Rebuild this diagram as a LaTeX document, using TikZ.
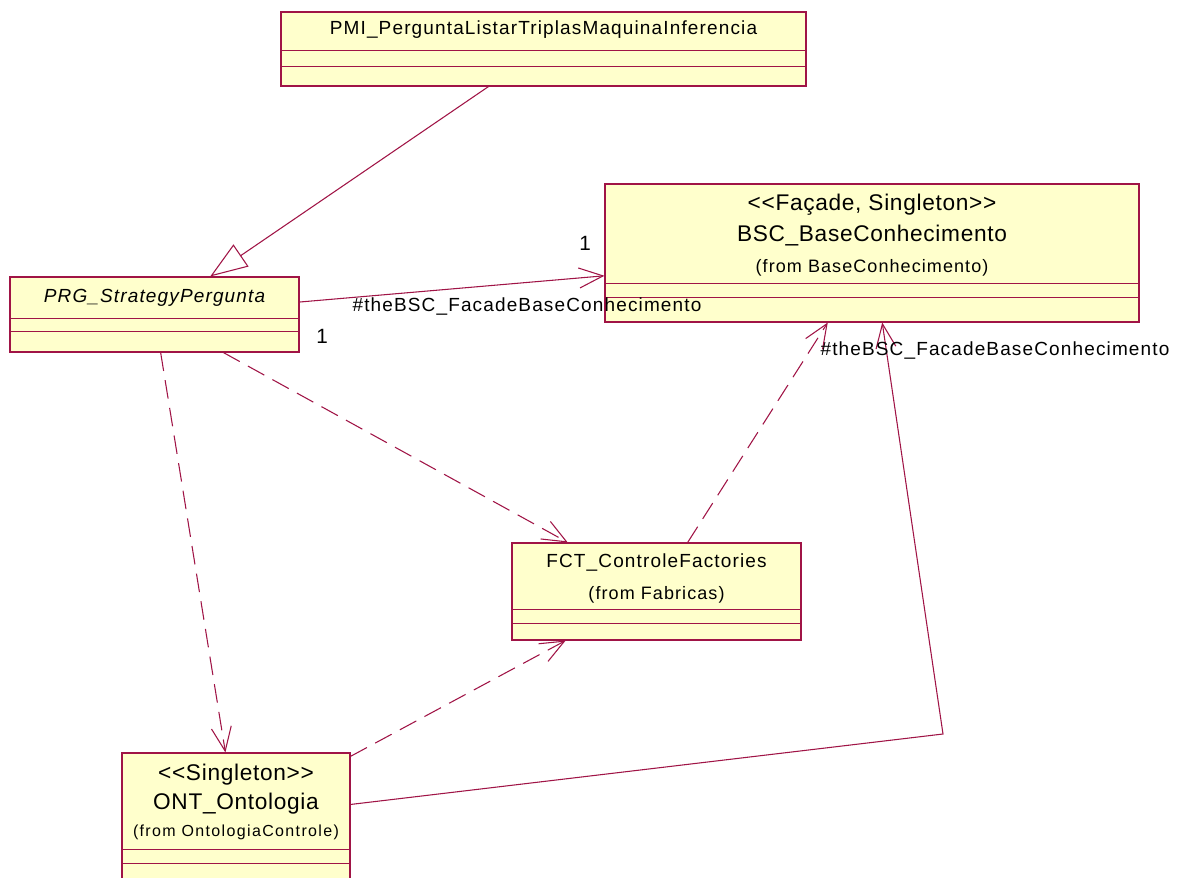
\documentclass[tikz,border=0pt]{standalone}
\usepackage{fontspec}
\usepackage{tikz}
\usetikzlibrary{arrows.meta,calc}
\newfontfamily\rosefont{Liberation Sans}[LetterSpace=6]
\newfontfamily\rosesmall{Liberation Sans}[LetterSpace=8.5]
\newfontfamily\rosebig{Liberation Sans}[LetterSpace=3]
\definecolor{roseline}{RGB}{160,20,70}
\definecolor{rosefill}{RGB}{255,255,204}
\tikzset{
    classbox/.style = {rectangle, draw=roseline, fill=rosefill, line width=0.8pt, inner sep=0pt},
    compart/.style = {draw=roseline, line width=0.8pt},
    classname/.style = {font=\rosefont\fontsize{14.25}{17}\selectfont, inner sep=0pt},
    bigname/.style = {font=\rosebig\fontsize{17}{20}\selectfont, inner sep=0pt},
    fromtext/.style = {font=\rosefont\fontsize{13.5}{16}\selectfont, inner sep=0pt},
    fromsmall/.style = {font=\rosesmall\fontsize{12}{14}\selectfont, inner sep=0pt},
    role/.style = {font=\rosefont\fontsize{14.25}{17}\selectfont, inner sep=0pt},
    mult/.style = {font=\rosebig\fontsize{15.5}{18}\selectfont, inner sep=0pt},
    assoc/.style = {draw=roseline, line width=0.8pt, -{Straight Barb[length=18pt,width=15pt]}},
    depend/.style = {assoc, dash pattern=on 14pt off 7pt},
    inherit/.style = {draw=roseline, line width=0.8pt, -{Triangle[open,length=28pt,width=20pt]}}
}
\begin{document}
\begin{tikzpicture}[x=0.75pt, y=0.75pt]
\useasboundingbox (0,0) rectangle (1179,-878);
\clip (0,0) rectangle (1179,-878);
\node (pmi) [classbox, minimum width=393.75pt, minimum height=55.5pt] at (543.5,-49) {};
\node (bsc) [classbox, minimum width=400.5pt, minimum height=103.5pt] at (872,-253) {};
\node (prg) [classbox, minimum width=216.75pt, minimum height=56.25pt] at (154.5,-314.5) {};
\node (fct) [classbox, minimum width=216.75pt, minimum height=72.75pt] at (656.5,-591.5) {};
\node (ont) [classbox, minimum width=171pt, minimum height=97.5pt] at (236,-818) {};
\foreach \cls/\dy in {pmi/36, pmi/20, bsc/39, bsc/25, prg/34, prg/21, fct/31, fct/17, ont/34, ont/20}
    \draw [compart] ($(\cls.south west)+(0,\dy)$) -- ($(\cls.south east)+(0,\dy)$);

\draw [inherit] (pmi) -- (prg);
\draw [assoc] (prg) -- (bsc);
\draw [depend] (prg) -- (fct);
\draw [depend] (fct) -- (bsc);
\draw [depend] (prg) -- (ont);
\draw [depend] (ont) -- (fct);
\coordinate (bend) at (943,-734);
\draw [assoc] (ont) -- (bend) -- (bsc);

\node (pmiName) [classname] at (543.5,-30) {PMI\_PerguntaListarTriplasMaquinaInferencia};
\node (bscStereo) [bigname] at (872,-205) {<<Façade, Singleton>>};
\node (bscName) [bigname] at (872,-236) {BSC\_BaseConhecimento};
\node (bscFrom) [fromtext] at (872,-268) {(from BaseConhecimento)};
\node (prgName) [classname] at (154.5,-298) {\itshape PRG\_StrategyPergunta};
\node (fctName) [classname] at (656.5,-562) {FCT\_ControleFactories};
\node (fctFrom) [fromtext] at (656.5,-595) {(from Fabricas)};
\node (ontStereo) [bigname] at (236,-775) {<<Singleton>>};
\node (ontName) [bigname] at (236,-804) {ONT\_Ontologia};
\node (ontFrom) [fromsmall] at (236,-832) {(from OntologiaControle)};
\node (roleBsc) [role] at (527,-307) {\#theBSC\_FacadeBaseConhecimento};
\node (roleOnt) [role] at (995,-351) {\#theBSC\_FacadeBaseConhecimento};
\node (multBsc) [mult] at (585,-243) {1};
\node (multPrg) [mult] at (322,-336) {1};
\end{tikzpicture}
\end{document}
